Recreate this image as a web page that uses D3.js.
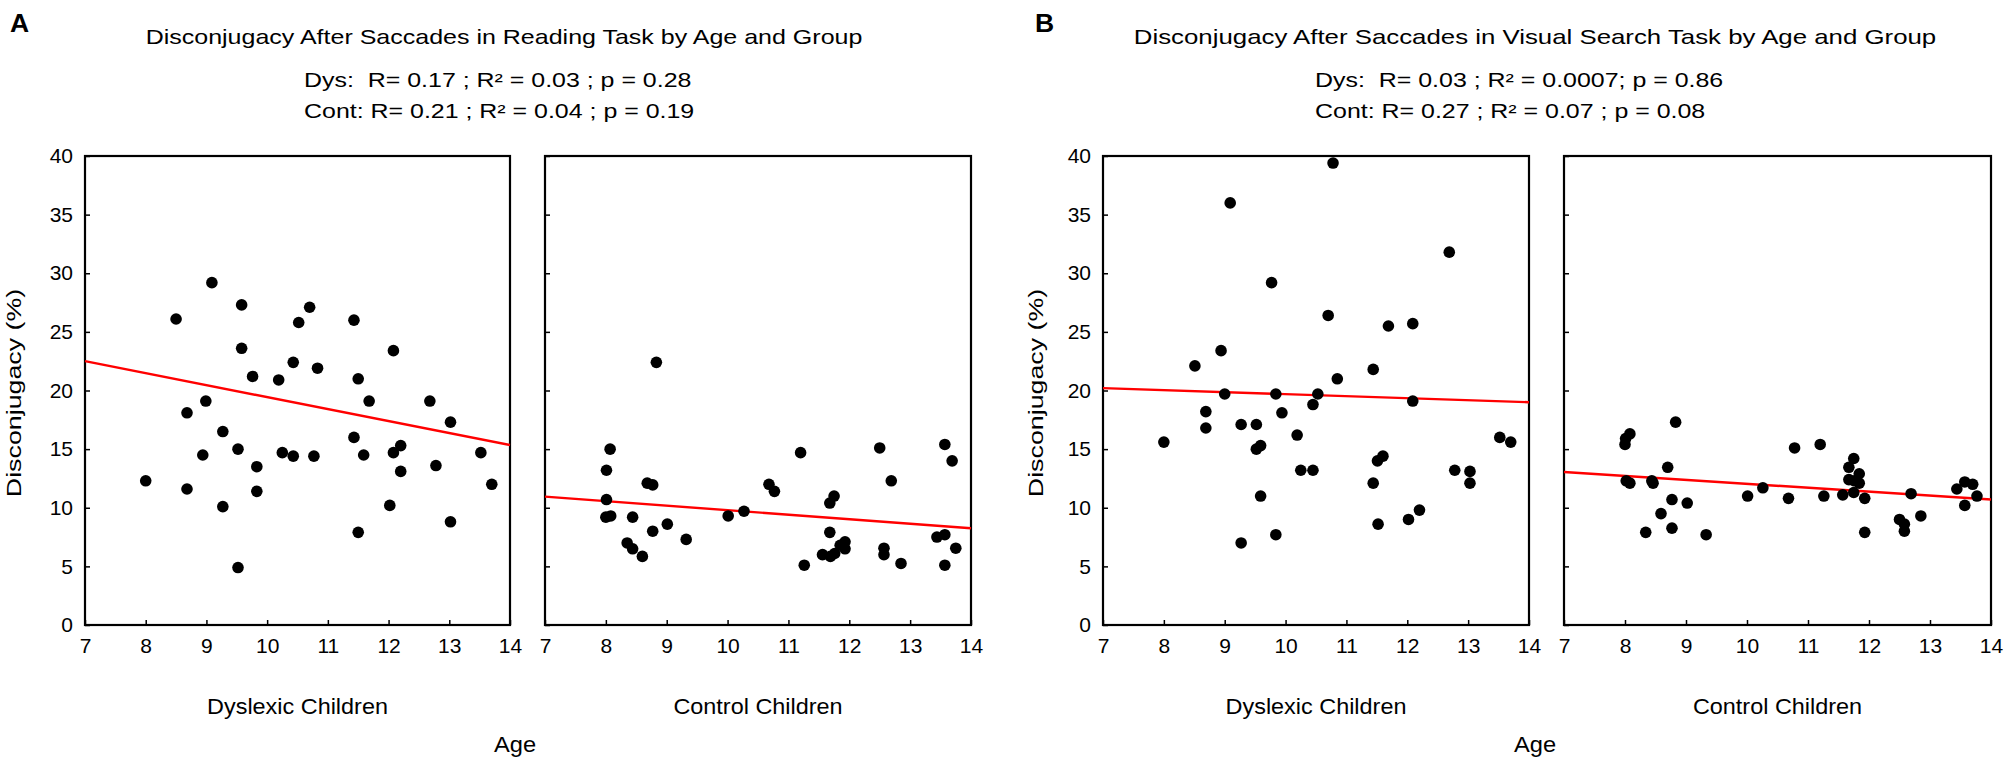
<!DOCTYPE html>
<html>
<head>
<meta charset="utf-8">
<script src="https://cdn.jsdelivr.net/npm/d3@7"></script>
<style>
  body { margin: 0; background: #fff; }
  svg { display: block; font-family: "Liberation Sans", Arial, sans-serif; }
</style>
</head>
<body>
<svg width="2008" height="763"></svg>
<script>
const svg = d3.select("svg");

// *** DATA (age, disconjugacy %) ***
const readingDys = [
  [8.0,12.3],[8.5,26.1],[8.68,18.1],[8.68,11.6],[8.94,14.5],[8.99,19.1],[9.09,29.2],
  [9.27,16.5],[9.27,10.1],[9.52,15.0],[9.52,4.9],[9.58,27.3],[9.58,23.6],[9.76,21.2],
  [9.83,13.5],[9.83,11.4],[10.19,20.9],[10.25,14.7],[10.43,22.4],[10.43,14.4],[10.52,25.8],
  [10.7,27.1],[10.77,14.4],[10.83,21.9],[11.43,26.0],[11.43,16.0],[11.5,21.0],[11.5,7.9],
  [11.59,14.5],[11.68,19.1],[12.02,10.2],[12.08,23.4],[12.08,14.7],[12.2,15.3],[12.2,13.1],
  [12.68,19.1],[12.78,13.6],[13.02,17.3],[13.02,8.8],[13.52,14.7],[13.7,12.0]
];
const readingCont = [
  [8.01,13.2],[8.07,15.0],[8.01,10.7],[8.0,9.2],[8.08,9.3],[8.35,7.0],[8.44,9.2],
  [8.44,6.5],[8.6,5.85],[8.68,12.1],[8.77,11.95],[8.77,8.0],[8.83,22.4],[9.01,8.6],
  [9.32,7.3],[10.01,9.3],[10.27,9.7],[10.68,12.0],[10.77,11.4],[11.2,14.7],[11.26,5.1],
  [11.56,6.0],[11.68,10.4],[11.75,11.0],[11.68,7.9],[11.69,5.85],[11.76,6.1],[11.85,6.8],
  [11.93,7.1],[11.93,6.5],[12.5,15.1],[12.57,6.55],[12.57,6.0],[12.69,12.3],[12.85,5.25],
  [13.44,7.5],[13.57,7.7],[13.57,15.4],[13.57,5.1],[13.69,14.0],[13.75,6.55]
];
const searchDys = [
  [8.0,15.6],[8.51,22.1],[8.69,18.2],[8.69,16.8],[8.94,23.4],[9.0,19.7],[9.09,36.0],
  [9.27,17.1],[9.27,7.0],[9.52,17.1],[9.52,15.0],[9.59,15.3],[9.59,11.0],[9.77,29.2],
  [9.84,19.7],[9.84,7.7],[9.94,18.1],[10.19,16.2],[10.25,13.2],[10.45,13.2],[10.45,18.8],
  [10.53,19.7],[10.7,26.4],[10.78,39.4],[10.85,21.0],[11.44,21.8],[11.44,12.1],[11.51,14.0],
  [11.6,14.4],[11.52,8.6],[11.69,25.5],[12.02,9.0],[12.09,25.7],[12.09,19.1],[12.2,9.8],
  [12.69,31.8],[12.78,13.2],[13.03,13.1],[13.03,12.1],[13.52,16.0],[13.7,15.6]
];
const searchCont = [
  [8.0,15.4],[8.01,15.9],[8.08,16.3],[8.02,12.3],[8.08,12.1],[8.34,7.9],[8.44,12.3],
  [8.46,12.1],[8.59,9.5],[8.7,13.45],[8.77,10.7],[8.77,8.26],[8.83,17.3],[9.02,10.4],
  [9.33,7.7],[10.01,11.0],[10.26,11.7],[10.68,10.8],[10.78,15.1],[11.2,15.4],[11.26,11.0],
  [11.57,11.1],[11.67,13.45],[11.75,14.2],[11.67,12.4],[11.76,12.3],[11.84,12.9],[11.84,12.1],
  [11.75,11.3],[11.93,10.8],[11.93,7.9],[12.5,9.0],[12.58,8.6],[12.58,8.0],[12.69,11.2],
  [12.85,9.3],[13.44,11.6],[13.57,12.2],[13.57,10.2],[13.7,12.0],[13.77,11.0]
];

// fitted line values at age 7 and age 14
const fitAges = [7, 14];
const readingDysFit = [22.5, 15.35];
const readingContFit = [10.95, 8.25];
const searchDysFit = [20.2, 19.0];
const searchContFit = [13.05, 10.7];

const xTicks = [7, 8, 9, 10, 11, 12, 13, 14];
const yTicks = [0, 5, 10, 15, 20, 25, 30, 35, 40];
const groupLabels = ["Dyslexic Children", "Control Children"];

const figures = [
  {
    letter: "A", letterX: 10,
    title: "Disconjugacy After Saccades in Reading Task by Age and Group", titleX: 504, titleSx: 1.22,
    stats: ["Dys:  R= 0.17 ; R\u00b2 = 0.03 ; p = 0.28", "Cont: R= 0.21 ; R\u00b2 = 0.04 ; p = 0.19"], statsX: 304,
    panels: [{x0: 85, x1: 510, data: readingDys, fit: readingDysFit},
             {x0: 545, x1: 971, data: readingCont, fit: readingContFit}],
    ylabelX: 21, ageX: 515
  },
  {
    letter: "B", letterX: 1035,
    title: "Disconjugacy After Saccades in Visual Search Task by Age and Group", titleX: 1535, titleSx: 1.26,
    stats: ["Dys:  R= 0.03 ; R\u00b2 = 0.0007; p = 0.86", "Cont: R= 0.27 ; R\u00b2 = 0.07 ; p = 0.08"], statsX: 1315,
    panels: [{x0: 1103, x1: 1529, data: searchDys, fit: searchDysFit},
             {x0: 1564, x1: 1991, data: searchCont, fit: searchContFit}],
    ylabelX: 1043, ageX: 1535
  }
];

const plotTop = 156, plotBottom = 625;
const y = d3.scaleLinear().domain([0, 40]).range([plotBottom, plotTop]);

// the figure's lettering is a little wider than Arial, so stretch it horizontally
function addText(x, yPos, str, o) {
  return svg.append("text")
    .attr("transform", `translate(${x},${yPos}) rotate(${o.rot || 0}) scale(${o.sx || 1},1)`)
    .attr("text-anchor", o.anchor || "start")
    .attr("font-size", o.size)
    .attr("font-weight", o.weight || "normal")
    .style("white-space", "pre")
    .text(str);
}

figures.forEach(fig => {
  addText(fig.letterX, 32, fig.letter, {size: 26.5, weight: "bold"});
  addText(fig.titleX, 44, fig.title, {size: 20.5, anchor: "middle", sx: fig.titleSx});

  fig.stats.forEach((s, i) => {
    addText(fig.statsX, 87 + i * 31, s, {size: 19.5, sx: 1.28});
  });

  addText(fig.ylabelX, 393, "Disconjugacy (%)", {size: 20, anchor: "middle", rot: -90, sx: 1.34});

  fig.panels.forEach((p, pi) => {
    const x = d3.scaleLinear().domain([7, 14]).range([p.x0, p.x1]);
    const g = svg.append("g");

    // frame
    g.append("rect").attr("x", p.x0).attr("y", plotTop)
      .attr("width", p.x1 - p.x0).attr("height", plotBottom - plotTop)
      .attr("fill", "none").attr("stroke", "#000").attr("stroke-width", 2.2);

    // inward ticks
    const xAxis = d3.axisBottom(x).tickValues(xTicks).tickFormat(d3.format("d"))
      .tickSizeInner(-5).tickSizeOuter(0).tickPadding(13);
    const ax = g.append("g").attr("transform", `translate(0,${plotBottom})`).call(xAxis);
    ax.select(".domain").remove();
    ax.selectAll("line").attr("stroke-width", 1.5);
    ax.selectAll("text").attr("font-size", 21).attr("font-family", "Liberation Sans, Arial, sans-serif")
      .attr("fill", "#000");

    const yAxis = d3.axisLeft(y).tickValues(yTicks).tickFormat(d3.format("d"))
      .tickSizeInner(-5).tickSizeOuter(0).tickPadding(12);
    const ay = g.append("g").attr("transform", `translate(${p.x0},0)`).call(yAxis);
    ay.select(".domain").remove();
    ay.selectAll("line").attr("stroke-width", 1.5);
    ay.selectAll("text").attr("font-size", 21).attr("font-family", "Liberation Sans, Arial, sans-serif")
      .attr("fill", "#000");
    if (pi === 1) ay.selectAll("text").remove();

    // fit line
    g.append("line")
      .attr("x1", x(fitAges[0])).attr("y1", y(p.fit[0]))
      .attr("x2", x(fitAges[1])).attr("y2", y(p.fit[1]))
      .attr("stroke", "#ff0000").attr("stroke-width", 2.4);

    // points
    g.selectAll("circle").data(p.data).enter().append("circle")
      .attr("cx", d => x(d[0])).attr("cy", d => y(d[1]))
      .attr("r", 5.8).attr("fill", "#000");

    addText((p.x0 + p.x1) / 2, 714, groupLabels[pi], {size: 21.5, anchor: "middle", sx: 1.09});
  });

  addText(fig.ageX, 752, "Age", {size: 21.5, anchor: "middle", sx: 1.1});
});
</script>
</body>
</html>
